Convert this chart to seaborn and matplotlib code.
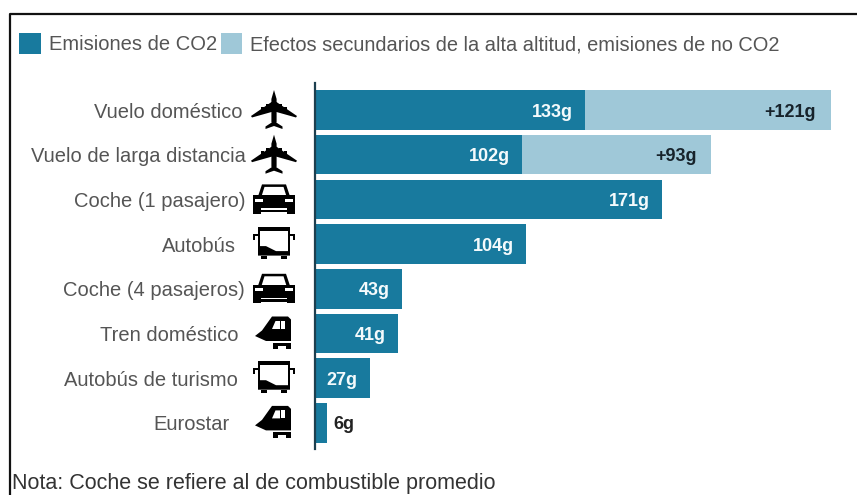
import matplotlib
matplotlib.use("Agg")
import matplotlib.pyplot as plt
from matplotlib.lines import Line2D
from matplotlib.patches import Polygon, Rectangle
from matplotlib.transforms import Affine2D
import pandas as pd
import seaborn as sns

WIDTH, HEIGHT = 857, 495

categories = ["Vuelo doméstico", "Vuelo de larga distancia", "Coche (1 pasajero)",
              "Autobús", "Coche (4 pasajeros)", "Tren doméstico",
              "Autobús de turismo", "Eurostar"]
co2_values = [133, 102, 171, 104, 43, 41, 27, 6]
non_co2_values = [121, 93, 0, 0, 0, 0, 0, 0]
icons = ["plane", "plane", "car", "bus", "car", "train", "bus", "train"]
label_right_edges = [243, 246, 245, 236, 245, 238, 238, 230]

DARK = "#187a9e"
LIGHT = "#9fc8d8"
TEXT = "#555555"

sns.set_theme(style="white")
plt.rcParams["font.family"] = ["Liberation Sans", "DejaVu Sans"]

df = pd.DataFrame({"modo": categories, "co2": co2_values, "extra": non_co2_values})
df["total"] = df["co2"] + df["extra"]

fig = plt.figure(figsize=(WIDTH / 100, HEIGHT / 100), dpi=100, facecolor="white")

# Bar area: the baseline sits at x=315 px, the spine spans y=83..449 px
px_per_gram = 2.03
row_step = 44.7
first_row = 110
left, right, top, bottom = 315, WIDTH, 83, 449
ax = fig.add_axes([left / WIDTH, 1 - bottom / HEIGHT, (right - left) / WIDTH, (bottom - top) / HEIGHT])

bar_style = dict(saturation=1, width=0.885, linewidth=0, order=categories)
sns.barplot(data=df, y="modo", x="total", color=LIGHT, ax=ax, **bar_style)
sns.barplot(data=df, y="modo", x="co2", color=DARK, ax=ax, **bar_style)

ax.set_xlim(0, (right - left) / px_per_gram)
ax.set_ylim((bottom - first_row) / row_step, (top - first_row) / row_step)
ax.set_xlabel("")
ax.set_ylabel("")
ax.set_xticks([])
for side in ("top", "right", "bottom"):
    ax.spines[side].set_visible(False)
ax.spines["left"].set_color("#1d3f4f")
ax.spines["left"].set_linewidth(1.6)
ax.patch.set_alpha(0)

# Row labels, each with its own distance from the baseline
ax.tick_params(axis="y", length=0, labelsize=14.5, labelcolor=TEXT)
for tick, edge in zip(ax.yaxis.get_major_ticks(), label_right_edges):
    tick.set_pad((left - edge) * 0.72)

# Value labels
value_font = dict(va="center", fontsize=13, fontweight="bold", textcoords="offset points")
for i, (c, e) in enumerate(zip(co2_values, non_co2_values)):
    if c > 20:
        ax.annotate(f"{c}g", (c, i), xytext=(-9, -1.5), ha="right", color="#f4fafc", **value_font)
    else:
        ax.annotate(f"{c}g", (c, i), xytext=(4.5, -1.5), ha="left", color="#222222", **value_font)
    if e:
        ax.annotate(f"+{e}g", (c + e, i), xytext=(-10.5, -1.5), ha="right", color="#17232b", **value_font)

# Overlay in pixel coordinates for the frame, legend, note and pictograms
overlay = fig.add_axes([0, 0, 1, 1], zorder=5)
overlay.set_xlim(0, WIDTH)
overlay.set_ylim(HEIGHT, 0)
overlay.axis("off")

overlay.add_line(Line2D([10, 10, WIDTH], [HEIGHT, 14, 14], color="#111111", lw=1.6))

overlay.add_patch(Rectangle((19, 33), 22, 21, color=DARK, lw=0))
overlay.add_patch(Rectangle((221, 33), 21, 21, color=LIGHT, lw=0))
overlay.text(49, 45, "Emisiones de CO2", fontsize=14.5, color=TEXT, va="center")
overlay.text(250, 45, "Efectos secundarios de la alta altitud, emisiones de no CO2",
             fontsize=14.45, color=TEXT, va="center")
overlay.text(12, 484, "Nota: Coche se refiere al de combustible promedio",
             fontsize=15.5, color="#333333", va="center")


def place(cx, cy):
    return Affine2D().translate(cx, cy) + overlay.transData


def poly(points, cx, cy, color="black"):
    overlay.add_patch(Polygon(points, closed=True, color=color, lw=0, transform=place(cx, cy)))


def rect(x, y, w, h, cx, cy, color="black"):
    overlay.add_patch(Rectangle((x, y), w, h, color=color, lw=0, transform=place(cx, cy)))


def draw_plane(cx, cy):
    # Fuselage, swept wings, engines and tail, nose pointing up
    poly([(-2.6, -11), (0, -20), (2.6, -11), (2.6, 12), (0, 16), (-2.6, 12)], cx, cy)
    poly([(-2.5, -8), (-23, 6), (-22, 7.5), (-2.5, 2), (2.5, 2), (22, 7.5), (23, 6), (2.5, -8)], cx, cy)
    poly([(-1.5, 12), (-8.5, 16.5), (-8.5, 19), (0, 16), (8.5, 19), (8.5, 16.5), (1.5, 12)], cx, cy)
    rect(-13, -3.5, 3, 5, cx, cy)
    rect(10, -3.5, 3, 5, cx, cy)
    rect(-8, -6.5, 3, 5, cx, cy)
    rect(5, -6.5, 3, 5, cx, cy)


def draw_car(cx, cy):
    # Roof outline, body, headlights and wheels seen from the front
    poly([(-16, -3), (-12, -15), (12, -15), (16, -3), (12.5, -3), (9.5, -12.5),
          (-9.5, -12.5), (-12.5, -3)], cx, cy)
    poly([(-21, -4), (21, -4), (21, 9), (-21, 9)], cx, cy)
    rect(-21, 9, 8, 5.5, cx, cy)
    rect(13, 9, 8, 5.5, cx, cy)
    rect(-13, 10.5, 26, 2.2, cx, cy)
    rect(-19, -0.5, 8, 2.8, cx, cy, "white")
    rect(11, -0.5, 8, 2.8, cx, cy, "white")


def draw_bus(cx, cy):
    # Open-windscreen coach with mirrors and a dark lower dashboard
    rect(-16, -17, 32, 4, cx, cy)
    rect(-16, -17, 2.2, 28, cx, cy)
    rect(13.8, -17, 2.2, 28, cx, cy)
    poly([(-16, 2), (-8, 2), (2, 7), (16, 7), (16, 11.5), (-16, 11.5)], cx, cy)
    rect(-13, 11.5, 6, 3.5, cx, cy)
    rect(7, 11.5, 6, 3.5, cx, cy)
    rect(-21, -10, 5, 1.8, cx, cy)
    rect(16, -10, 5, 1.8, cx, cy)
    rect(-21, -10, 1.8, 6, cx, cy)
    rect(19.2, -10, 1.8, 6, cx, cy)


def draw_train(cx, cy):
    # High-speed train nose in profile with cab windows and bogie
    poly([(-18, 2.5), (-11, -3), (-1, -17), (15, -17), (18, -14), (18, 7.5), (-7, 7.5)], cx, cy)
    poly([(-1, -4.5), (2.5, -12.5), (7, -12.5), (7, -4.5)], cx, cy, "white")
    rect(8.5, -12.5, 4, 8, cx, cy, "white")
    rect(0, 9.5, 18, 2.5, cx, cy)
    rect(0, 9.5, 5, 6, cx, cy)
    rect(13, 9.5, 5, 6, cx, cy)


drawers = {"plane": draw_plane, "car": draw_car, "bus": draw_bus, "train": draw_train}
icon_x = {"plane": 274, "car": 274, "bus": 274, "train": 273}
for i, kind in enumerate(icons):
    drawers[kind](icon_x[kind], first_row + i * row_step)

fig.savefig("out.png", dpi=100)
